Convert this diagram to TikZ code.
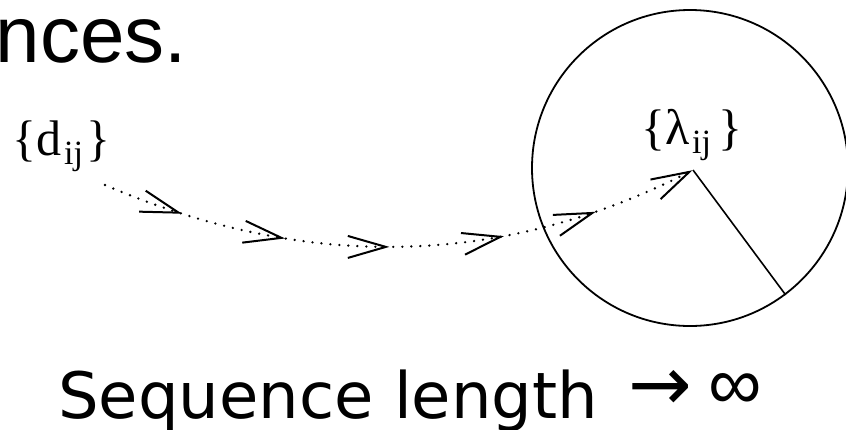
\documentclass[tikz,border=0pt]{standalone}
\usepackage{fontspec}
\setmainfont{Liberation Serif}
\newfontfamily\arialf{Liberation Sans}
\newfontfamily\dejavu{DejaVu Sans}
\usetikzlibrary{arrows.meta,decorations.markings}
\newcommand{\subidx}[1]{\raisebox{-9pt}{\fontsize{34}{34}\selectfont #1}}
\tikzset{
  chev/.tip={Straight Barb[length=38pt,width=22pt,line width=2pt]},
  dotline/.style={line width=2.6pt,line cap=round,dash pattern=on 0pt off 9pt,black},
  label/.style={inner sep=0pt,font=\fontsize{50}{50}\selectfont},
  sym/.style={inner sep=0pt,anchor=north},
}
\begin{document}
\begin{tikzpicture}[x=1pt,y=-1pt]
\useasboundingbox (0,0) rectangle (846,429);
\node[anchor=base east,inner sep=0pt,font=\arialf\fontsize{80}{80}\selectfont] (title) at (187,62) {ances.};
\node[label,anchor=base west] (d) at (12,155) {\{d\kern3pt\subidx{ij}\kern3pt\}};
\node[circle,draw,line width=1.8pt,minimum size=316pt,inner sep=0pt] (C) at (690,168) {};
\node[label,anchor=base] (lam) at (692,144) {\{λ\kern2pt\subidx{ij}\kern7pt\}};
\coordinate (ctr) at (693,170);
\coordinate (s) at (105,185);
\draw[line width=1.6pt] (ctr) -- (C.-53);
\draw[dotline] (s) .. controls (280,260) and (480,280) .. (ctr);
\path[decoration={markings,
  mark=at position 0.135 with {\arrow{chev}},
  mark=at position 0.309 with {\arrow{chev}},
  mark=at position 0.481 with {\arrow{chev}},
  mark=at position 0.670 with {\arrow{chev}},
  mark=at position 0.826 with {\arrow{chev}},
  mark=at position 0.999 with {\arrow{chev}}},decorate]
  (s) .. controls (280,260) and (480,280) .. (ctr);
\node[anchor=base west,inner sep=0pt,font=\dejavu\fontsize{64}{64}\selectfont] (seq) at (58,418) {Sequence length};
\node[sym,font=\dejavu\fontsize{76}{76}\selectfont] (arr) at (660.5,370) {→};
\node[sym,font=\arialf\fontsize{75}{75}\selectfont] (inf) at (735,373) {∞};
\end{tikzpicture}
\end{document}
